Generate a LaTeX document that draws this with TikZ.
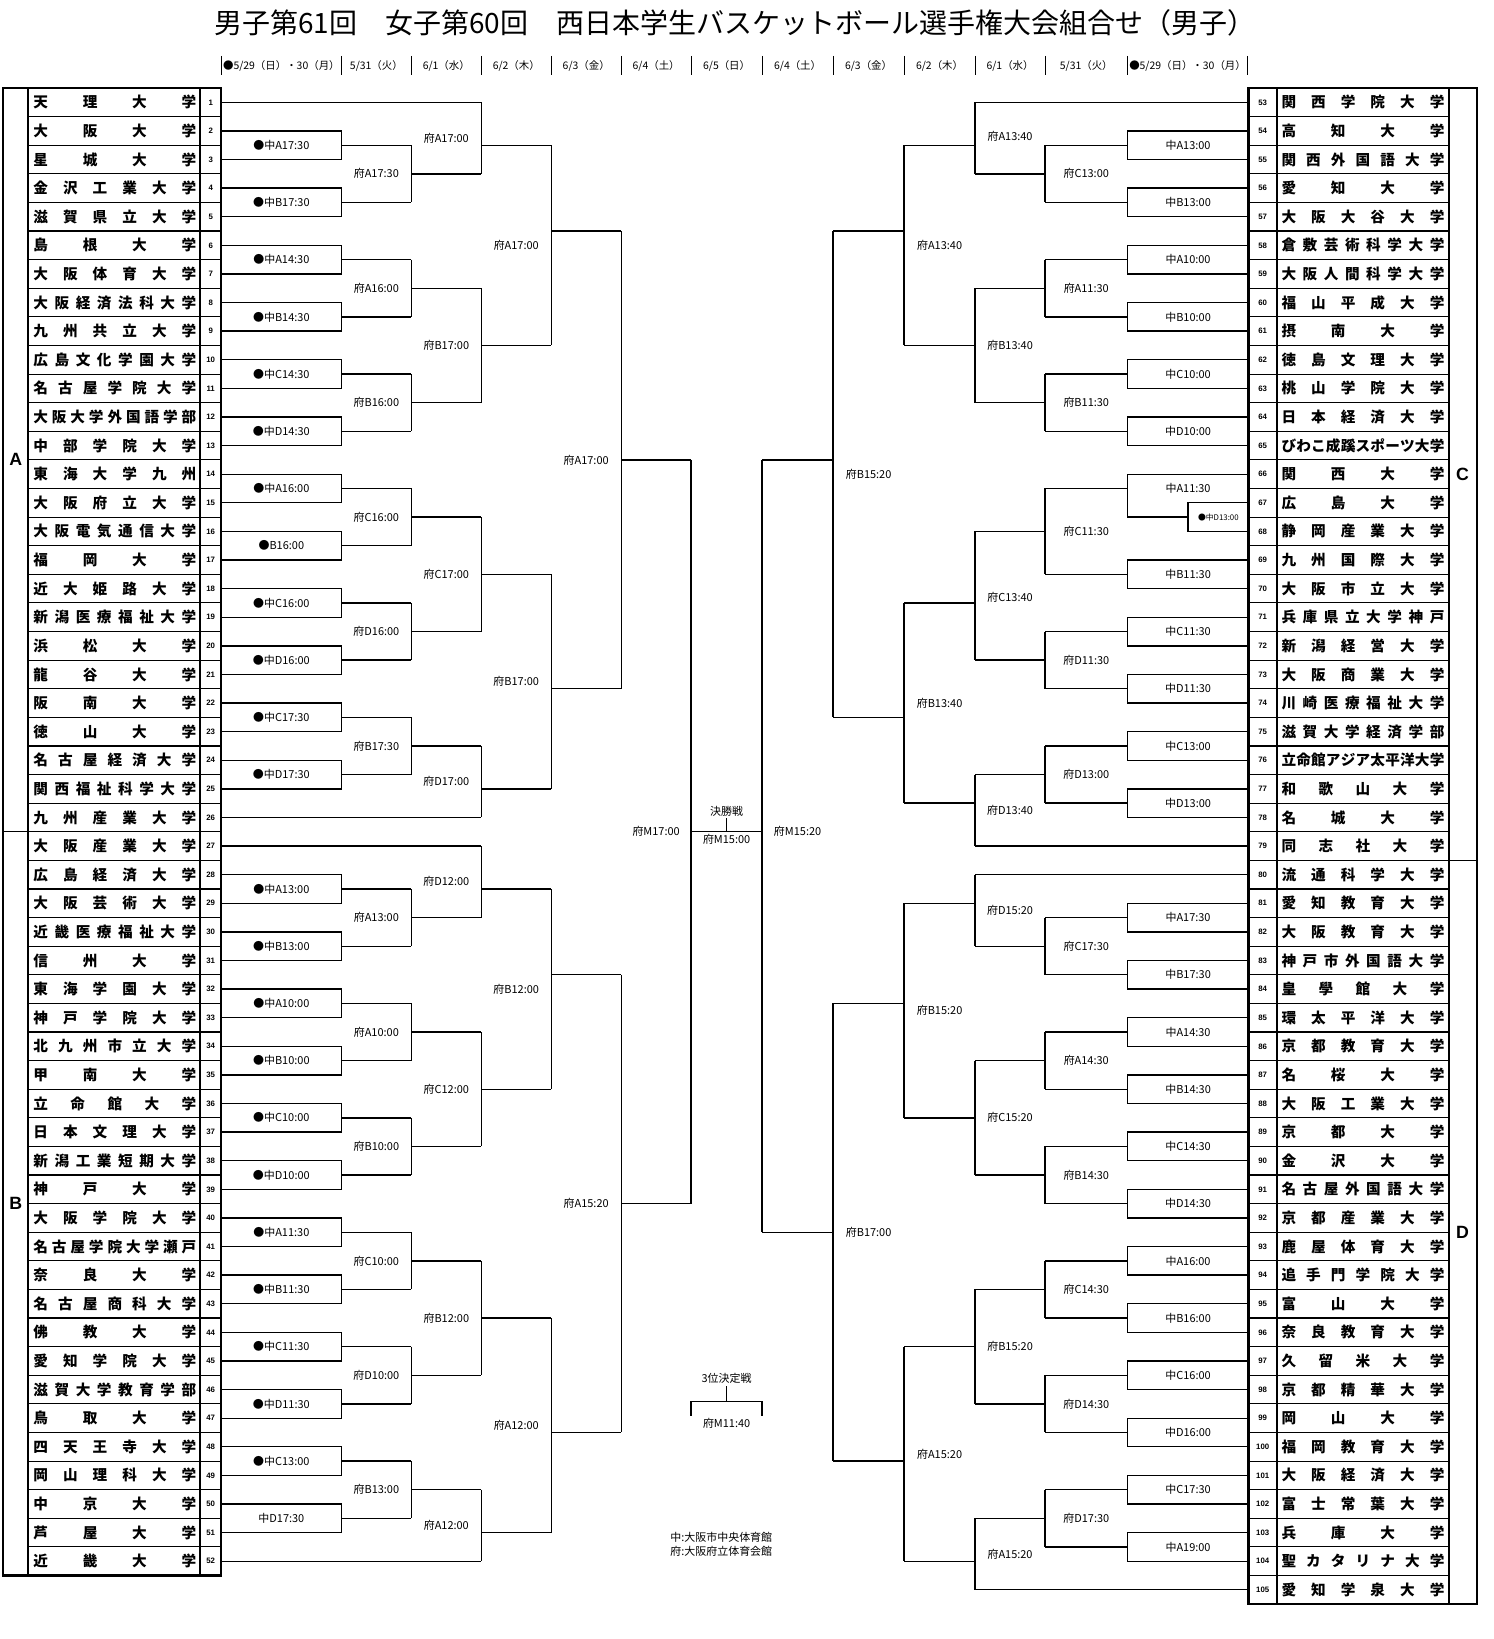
\documentclass[tikz,border=0pt]{standalone}
\usepackage{fontspec}
\setmainfont{Liberation Sans}
\newfontfamily\jp{Noto Sans CJK JP}
\def\spreadi#1{\ifx\relax#1\else#1\expandafter\spreadii\fi}
\def\spreadii#1{\ifx\relax#1\else\hfill#1\expandafter\spreadii\fi}
\newcommand\spreadname[1]{\hbox to 156pt{\expandafter\spreadi#1\relax}}
\def\xLa{212}\def\xLb{327}\def\xLc{394}\def\xLd{461}\def\xLe{528}\def\xLf{595}\def\xLg{662}
\def\xRa{1196}\def\xRb{1080}\def\xRc{1001}\def\xRd{934}\def\xRe{866}\def\xRf{798}\def\xRg{730}
\newcommand\rnd[4]{%
  \foreach \ytop/\ybot/\yout/\ylab/\lab in {#4}{
    \pgfmathtruncatemacro\id{\yout*4}
    \draw[bline] (#1,\ytop) -- (#1,\ybot) (#1,\yout) -- (#2,\yout);
    \node[time] (g#1-\id) at (#3,\ylab) {\lab};
  }}
\begin{document}
\begin{tikzpicture}[x=1pt,y=-27.4pt,
    bline/.style={line width=1.3pt},
    frame/.style={line width=2.2pt},
    sep/.style={line width=1.1pt},
    team/.style={inner sep=0pt,font=\jp\bfseries\fontsize{14}{14}\selectfont},
    num/.style={inner sep=0pt,font=\bfseries\fontsize{7.5}{8}\selectfont},
    time/.style={inner sep=0pt,font=\jp\fontsize{10.5}{12}\selectfont},
    letter/.style={font=\bfseries\fontsize{17}{17}\selectfont}]
  \useasboundingbox (0,-2.577) rectangle (1431,54.72);
  \node[font=\jp\fontsize{26.8}{30}\selectfont] (title) at (704,-1.774)
    {男子第61回　女子第60回　西日本学生バスケットボール選手権大会組合せ（男子）};
  \foreach \x in {212,327,394,461,528,595,662,730,798,866,934,1001,1080,1195}
    \draw[line width=0.8pt] (\x,-0.62) -- (\x,0.06);
  \foreach \d [count=\i] in {●5/29（日）・30（月）,5/31（火）,6/1（水）,6/2（木）,6/3（金）,6/4（土）,6/5（日）,6/4（土）,6/3（金）,6/2（木）,6/1（水）,5/31（火）,●5/29（日）・30（月）}{
    \pgfmathsetmacro\xa{{212,327,394,461,528,595,662,730,798,866,934,1001,1080,1195}[\i-1]}
    \pgfmathsetmacro\xb{{212,327,394,461,528,595,662,730,798,866,934,1001,1080,1195}[\i]}
    \node[time,font=\jp\fontsize{10}{12}\selectfont] (d\i) at ({(\xa+\xb)/2},-0.277) {\d};
  }
  % left list
  \draw[frame] (3.2,0.5) rectangle (212,52.5) (27,0.5) -- (27,52.5) (191.6,0.5) -- (191.6,52.5);
  \foreach \r in {1,...,51}
    \draw[sep] (27,\r+0.5) -- (212,\r+0.5);
  \draw[sep] (3.2,26.5) -- (27,26.5);
  \node[letter] (secA) at (15,13.5) {A};
  \node[letter] (secB) at (15,39.5) {B};
  \foreach \n/\t in {1/天理大学,2/大阪大学,3/星城大学,4/金沢工業大学,5/滋賀県立大学,6/島根大学,
      7/大阪体育大学,8/大阪経済法科大学,9/九州共立大学,10/広島文化学園大学,11/名古屋学院大学,
      12/大阪大学外国語学部,13/中部学院大学,14/東海大学九州,15/大阪府立大学,16/大阪電気通信大学,
      17/福岡大学,18/近大姫路大学,19/新潟医療福祉大学,20/浜松大学,21/龍谷大学,22/阪南大学,
      23/徳山大学,24/名古屋経済大学,25/関西福祉科学大学,26/九州産業大学,27/大阪産業大学,
      28/広島経済大学,29/大阪芸術大学,30/近畿医療福祉大学,31/信州大学,32/東海学園大学,
      33/神戸学院大学,34/北九州市立大学,35/甲南大学,36/立命館大学,37/日本文理大学,
      38/新潟工業短期大学,39/神戸大学,40/大阪学院大学,41/名古屋学院大学瀬戸,42/奈良大学,
      43/名古屋商科大学,44/佛教大学,45/愛知学院大学,46/滋賀大学教育学部,47/鳥取大学,
      48/四天王寺大学,49/岡山理科大学,50/中京大学,51/芦屋大学,52/近畿大学}{
    \node[team] (t\n) at (110,\n) {\spreadname{\t}};
    \node[num] (n\n) at (201.8,\n) {\n};
  }
  % right list
  \draw[frame] (1196,0.5) rectangle (1414.6,53.5) (1223,0.5) -- (1223,53.5) (1388,0.5) -- (1388,53.5);
  \foreach \r in {1,...,52}
    \draw[sep] (1196,\r+0.5) -- (1388,\r+0.5);
  \draw[sep] (1388,27.5) -- (1414.6,27.5);
  \node[letter] (secC) at (1401,14) {C};
  \node[letter] (secD) at (1401,40.5) {D};
  \foreach \j/\t [evaluate=\j as \k using int(\j+52)] in {1/関西学院大学,2/高知大学,3/関西外国語大学,
      4/愛知大学,5/大阪大谷大学,6/倉敷芸術科学大学,7/大阪人間科学大学,8/福山平成大学,9/摂南大学,
      10/徳島文理大学,11/桃山学院大学,12/日本経済大学,13/びわこ成蹊スポーツ大学,14/関西大学,
      15/広島大学,16/静岡産業大学,17/九州国際大学,18/大阪市立大学,19/兵庫県立大学神戸,
      20/新潟経営大学,21/大阪商業大学,22/川崎医療福祉大学,23/滋賀大学経済学部,
      24/立命館アジア太平洋大学,25/和歌山大学,26/名城大学,27/同志社大学,28/流通科学大学,
      29/愛知教育大学,30/大阪教育大学,31/神戸市外国語大学,32/皇學館大学,33/環太平洋大学,
      34/京都教育大学,35/名桜大学,36/大阪工業大学,37/京都大学,38/金沢大学,39/名古屋外国語大学,
      40/京都産業大学,41/鹿屋体育大学,42/追手門学院大学,43/富山大学,44/奈良教育大学,
      45/久留米大学,46/京都精華大学,47/岡山大学,48/福岡教育大学,49/大阪経済大学,
      50/富士常葉大学,51/兵庫大学,52/聖カタリナ大学,53/愛知学泉大学}{
    \node[team] (t\k) at (1305.5,\j) {\spreadname{\t}};
    \node[num] (n\k) at (1209.5,\j) {\k};
  }
  % left bracket
  \foreach \r in {1,26,27,52}
    \draw[bline] (\xLa,\r) -- (\xLd,\r);
  \foreach \r/\lab in {2/●中A17:30,4/●中B17:30,6/●中A14:30,8/●中B14:30,10/●中C14:30,12/●中D14:30,
      14/●中A16:00,16/●B16:00,18/●中C16:00,20/●中D16:00,22/●中C17:30,24/●中D17:30,
      28/●中A13:00,30/●中B13:00,32/●中A10:00,34/●中B10:00,36/●中C10:00,38/●中D10:00,
      40/●中A11:30,42/●中B11:30,44/●中C11:30,46/●中D11:30,48/●中C13:00,50/中D17:30}{
    \draw[bline] (\xLa,\r) -| (\xLb,\r+1) -- (\xLa,\r+1) (\xLb,\r+0.5) -- (\xLc,\r+0.5);
    \node[time] (b\r) at (269.5,\r+0.5) {\lab};
  }
  \rnd{\xLc}{\xLd}{360.5}{2.5/4.5/3.5/3.5/府A17:30,6.5/8.5/7.5/7.5/府A16:00,10.5/12.5/11.5/11.5/府B16:00,
    14.5/16.5/15.5/15.5/府C16:00,18.5/20.5/19.5/19.5/府D16:00,22.5/24.5/23.5/23.5/府B17:30,
    28.5/30.5/29.5/29.5/府A13:00,32.5/34.5/33.5/33.5/府A10:00,36.5/38.5/37.5/37.5/府B10:00,
    40.5/42.5/41.5/41.5/府C10:00,44.5/46.5/45.5/45.5/府D10:00,48.5/50.5/49.5/49.5/府B13:00}
  \rnd{\xLd}{\xLe}{427.5}{1/3.5/2.5/2.25/府A17:00,7.5/11.5/9.5/9.5/府B17:00,15.5/19.5/17.5/17.5/府C17:00,
    23.5/26/25/24.75/府D17:00,27/29.5/28.5/28.25/府D12:00,33.5/37.5/35.5/35.5/府C12:00,
    41.5/45.5/43.5/43.5/府B12:00,49.5/52/51/50.75/府A12:00}
  \rnd{\xLe}{\xLf}{494.5}{2.5/9.5/5.5/6/府A17:00,17.5/25/21.5/21.25/府B17:00,
    28.5/35.5/31.5/32/府B12:00,43.5/51/47.5/47.25/府A12:00}
  \rnd{\xLf}{\xLg}{561.5}{5.5/21.5/13.5/13.5/府A17:00,31.5/47.5/39.5/39.5/府A15:20}
  \rnd{\xLg}{\xRg}{628.5}{13.5/39.5/26.5/26.5/府M17:00}
  % right bracket
  \foreach \r in {1,27,28,53}
    \draw[bline] (\xRa,\r) -- (\xRd,\r);
  \foreach \r/\lab in {2/中A13:00,4/中B13:00,6/中A10:00,8/中B10:00,10/中C10:00,12/中D10:00,
      17/中B11:30,19/中C11:30,21/中D11:30,23/中C13:00,25/中D13:00,
      29/中A17:30,31/中B17:30,33/中A14:30,35/中B14:30,37/中C14:30,39/中D14:30,
      41/中A16:00,43/中B16:00,45/中C16:00,47/中D16:00,49/中C17:30,51/中A19:00}{
    \draw[bline] (\xRa,\r) -| (\xRb,\r+1) -- (\xRa,\r+1) (\xRb,\r+0.5) -- (\xRc,\r+0.5);
    \node[time] (c\r) at (1138,\r+0.5) {\lab};
  }
  \draw[bline] (\xRa,14) -| (\xRb,15.5) -- (1138,15.5) (\xRb,14.5) -- (\xRc,14.5);
  \draw[bline] (\xRa,15) -| (1138,16) -- (\xRa,16);
  \node[time] (c14) at (1138,14.5) {中A11:30};
  \node[time,font=\jp\fontsize{7.5}{9}\selectfont] (c15) at (1167,15.5) {●中D13:00};
  \rnd{\xRc}{\xRd}{1040.5}{2.5/4.5/3.5/3.5/府C13:00,6.5/8.5/7.5/7.5/府A11:30,10.5/12.5/11.5/11.5/府B11:30,
    14.5/17.5/16/16/府C11:30,19.5/21.5/20.5/20.5/府D11:30,23.5/25.5/24.5/24.5/府D13:00,
    29.5/31.5/30.5/30.5/府C17:30,33.5/35.5/34.5/34.5/府A14:30,37.5/39.5/38.5/38.5/府B14:30,
    41.5/43.5/42.5/42.5/府C14:30,45.5/47.5/46.5/46.5/府D14:30,49.5/51.5/50.5/50.5/府D17:30}
  \rnd{\xRd}{\xRe}{967.5}{1/3.5/2.5/2.2/府A13:40,7.5/11.5/9.5/9.5/府B13:40,16/20.5/18.5/18.3/府C13:40,
    24.5/27/25.5/25.75/府D13:40,28/30.5/29/29.25/府D15:20,34.5/38.5/36.5/36.5/府C15:20,
    42.5/46.5/44.5/44.5/府B15:20,50.5/53/52/51.75/府A15:20}
  \rnd{\xRe}{\xRf}{900}{2.5/9.5/5.5/6/府A13:40,18.5/25.5/22.5/22/府B13:40,
    29/36.5/32.5/32.75/府B15:20,44.5/52/48.5/48.25/府A15:20}
  \rnd{\xRf}{\xRg}{832}{5.5/22.5/13.5/14/府B15:20,32.5/48.5/40.5/40.5/府B17:00}
  \rnd{\xRg}{\xRg}{764}{13.5/40.5/26.5/26.5/府M15:20}
  % final and third place
  \node[time] (final) at (696,25.77) {決勝戦};
  \draw[bline] (696,26.03) -- (696,26.5);
  \node[time] (finalt) at (696,26.78) {府M15:00};
  \node[time] (third) at (696,45.62) {3位決定戦};
  \draw[bline] (696,45.88) -- (696,46.42) (\xLg,46.92) -- (\xLg,46.42) -- (\xRg,46.42) -- (\xRg,46.92);
  \node[time] (thirdt) at (696,47.18) {府M11:40};
  \node[time,anchor=west] (leg1) at (642,51.18) {中:大阪市中央体育館};
  \node[time,anchor=west] (leg2) at (642,51.66) {府:大阪府立体育会館};
\end{tikzpicture}
\end{document}
